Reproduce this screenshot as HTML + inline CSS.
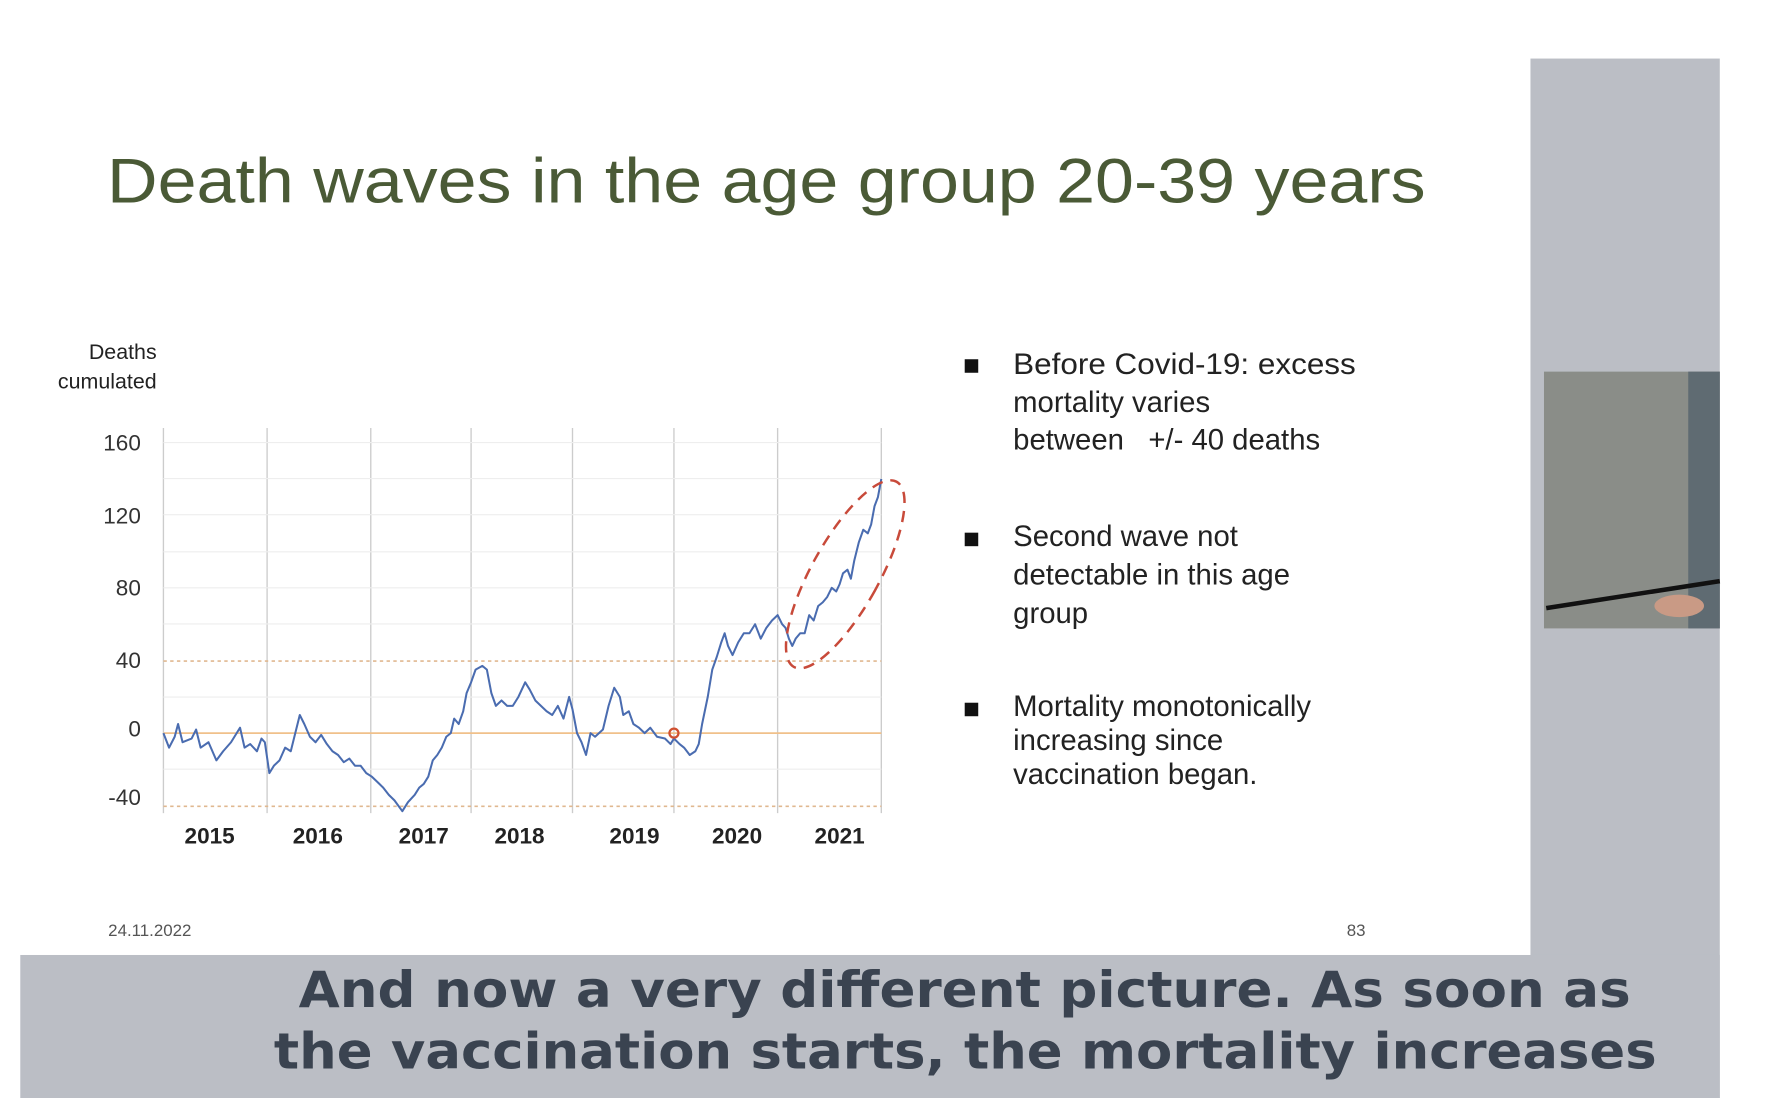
<!DOCTYPE html>
<html><head><meta charset="utf-8"><style>
html,body{margin:0;padding:0;background:#fff;}
svg{display:block;}
</style></head><body>
<svg width="1766" height="1098" viewBox="0 0 1567 975" preserveAspectRatio="none" xmlns="http://www.w3.org/2000/svg">
<rect x="0" y="0" width="1567" height="975" fill="#fff"/>
<rect x="1358" y="52" width="168" height="923" fill="#bbbec5"/>
<rect x="18" y="848" width="1508" height="127" fill="#bbbec5"/>
<rect x="1370" y="330" width="156" height="228" fill="#8a8d88"/>
<rect x="1498" y="330" width="28" height="228" fill="#5f6b72"/>
<line x1="1372" y1="540" x2="1526" y2="516" stroke="#111" stroke-width="4"/>
<ellipse cx="1490" cy="538" rx="22" ry="10" fill="#c99a85"/>
<text x="95" y="180" font-family="Liberation Sans, sans-serif" font-size="56" fill="#4a5a36" textLength="1170" lengthAdjust="spacingAndGlyphs">Death waves in the age group 20-39 years</text>
<g font-family="Liberation Sans, sans-serif" font-size="19" fill="#222" text-anchor="end">
<text x="139" y="319">Deaths</text><text x="139" y="345">cumulated</text>
</g>
<g stroke="#ccc" stroke-width="1.2">
<line x1="145" y1="380" x2="145" y2="722"/><line x1="237" y1="380" x2="237" y2="722"/><line x1="329" y1="380" x2="329" y2="722"/><line x1="418" y1="380" x2="418" y2="722"/><line x1="508" y1="380" x2="508" y2="722"/><line x1="598" y1="380" x2="598" y2="722"/><line x1="690" y1="380" x2="690" y2="722"/><line x1="782" y1="380" x2="782" y2="722"/>
</g>
<g stroke="#eee" stroke-width="1">
<line x1="145" y1="393" x2="782" y2="393"/><line x1="145" y1="425" x2="782" y2="425"/><line x1="145" y1="457" x2="782" y2="457"/><line x1="145" y1="490" x2="782" y2="490"/><line x1="145" y1="522" x2="782" y2="522"/><line x1="145" y1="554" x2="782" y2="554"/><line x1="145" y1="619" x2="782" y2="619"/><line x1="145" y1="683" x2="782" y2="683"/>
</g>
<line x1="145" y1="587" x2="782" y2="587" stroke="#e0b890" stroke-width="1.5" stroke-dasharray="3,3"/>
<line x1="145" y1="716" x2="782" y2="716" stroke="#e0b890" stroke-width="1.5" stroke-dasharray="3,3"/>
<line x1="145" y1="651" x2="782" y2="651" stroke="#f0c08a" stroke-width="1.5"/>
<g font-family="Liberation Sans, sans-serif" font-size="20" fill="#333" text-anchor="end">
<text x="125" y="400">160</text><text x="125" y="465">120</text><text x="125" y="529">80</text><text x="125" y="593">40</text><text x="125" y="654">0</text><text x="125" y="715">-40</text>
</g>
<g font-family="Liberation Sans, sans-serif" font-size="20" font-weight="bold" fill="#222" text-anchor="middle">
<text x="186" y="749">2015</text><text x="282" y="749">2016</text><text x="376" y="749">2017</text><text x="461" y="749">2018</text><text x="563" y="749">2019</text><text x="654" y="749">2020</text><text x="745" y="749">2021</text>
</g>
<polyline id="ser" fill="none" stroke="#4a6cb0" stroke-width="1.8" stroke-linejoin="round"/>
<circle cx="598" cy="651" r="4" fill="none" stroke="#d05030" stroke-width="2"/>
<ellipse cx="750" cy="510" rx="30" ry="94" transform="rotate(29 750 510)" fill="none" stroke="#c84a3a" stroke-width="2.2" stroke-dasharray="10,7"/>
<g font-family="Liberation Sans, sans-serif" font-size="26" fill="#222">
<rect x="856" y="319" width="12" height="12" fill="#111"/>
<text x="899" y="332" textLength="304" lengthAdjust="spacingAndGlyphs">Before Covid-19: excess</text><text x="899" y="366">mortality varies</text><text x="899" y="399">between&#160;&#160;&#160;+/- 40 deaths</text>
<rect x="856" y="473" width="12" height="12" fill="#111"/>
<text x="899" y="485">Second wave not</text><text x="899" y="519">detectable in this age</text><text x="899" y="553">group</text>
<rect x="856" y="624" width="12" height="12" fill="#111"/>
<text x="899" y="636">Mortality monotonically</text><text x="899" y="666">increasing since</text><text x="899" y="696">vaccination began.</text>
</g>
<text x="96" y="831" font-family="Liberation Sans, sans-serif" font-size="15" fill="#555">24.11.2022</text>
<text x="1195" y="831" font-family="Liberation Sans, sans-serif" font-size="15" fill="#555">83</text>
<g font-family="DejaVu Sans, sans-serif" font-weight="bold" font-size="44" fill="#3a4350">
<text x="265" y="894" textLength="1182" lengthAdjust="spacingAndGlyphs">And now a very different picture. As soon as</text>
<text x="243" y="949" textLength="1227" lengthAdjust="spacingAndGlyphs">the vaccination starts, the mortality increases</text>
</g>
</svg>
<script>
var d=[145,0,150,-8,155,-2,158,5,162,-5,170,-3,174,2,178,-8,185,-5,192,-15,198,-10,205,-5,210,0,213,3,217,-8,222,-6,228,-10,232,-3,235,-5,239,-22,243,-18,248,-15,253,-8,258,-10,262,0,266,10,270,5,275,-2,280,-5,285,-1,290,-6,295,-10,300,-12,305,-16,310,-14,315,-18,320,-18,325,-22,330,-24,335,-27,340,-30,345,-34,350,-37,357,-43,362,-38,368,-34,372,-30,376,-28,380,-24,384,-15,388,-12,392,-8,396,-2,400,0,403,8,407,5,411,12,414,22,418,28,422,35,428,37,432,35,436,22,440,15,445,18,450,15,455,15,460,20,466,28,470,24,475,18,480,15,485,12,490,10,495,15,500,8,505,20,508,13,512,0,516,-5,520,-12,524,0,528,-2,535,2,540,15,545,25,550,20,553,10,558,12,562,5,567,3,572,0,577,3,583,-2,590,-3,595,-6,598,-3,603,-6,607,-8,612,-12,617,-10,620,-6,623,5,628,20,632,35,636,42,640,50,643,55,646,48,650,43,655,50,660,55,665,55,670,60,675,52,680,58,685,62,690,65,694,60,697,58,700,52,703,48,706,52,710,55,714,55,718,65,722,62,726,70,730,72,734,75,738,80,742,78,745,82,748,88,752,90,755,85,758,95,762,105,766,112,770,110,773,115,776,125,779,130,782,140];
var p=[];for(var i=0;i<d.length;i+=2){p.push(d[i]+','+(651-d[i+1]*1.6125).toFixed(1));}
document.getElementById('ser').setAttribute('points',p.join(' '));
</script>
</body></html>
